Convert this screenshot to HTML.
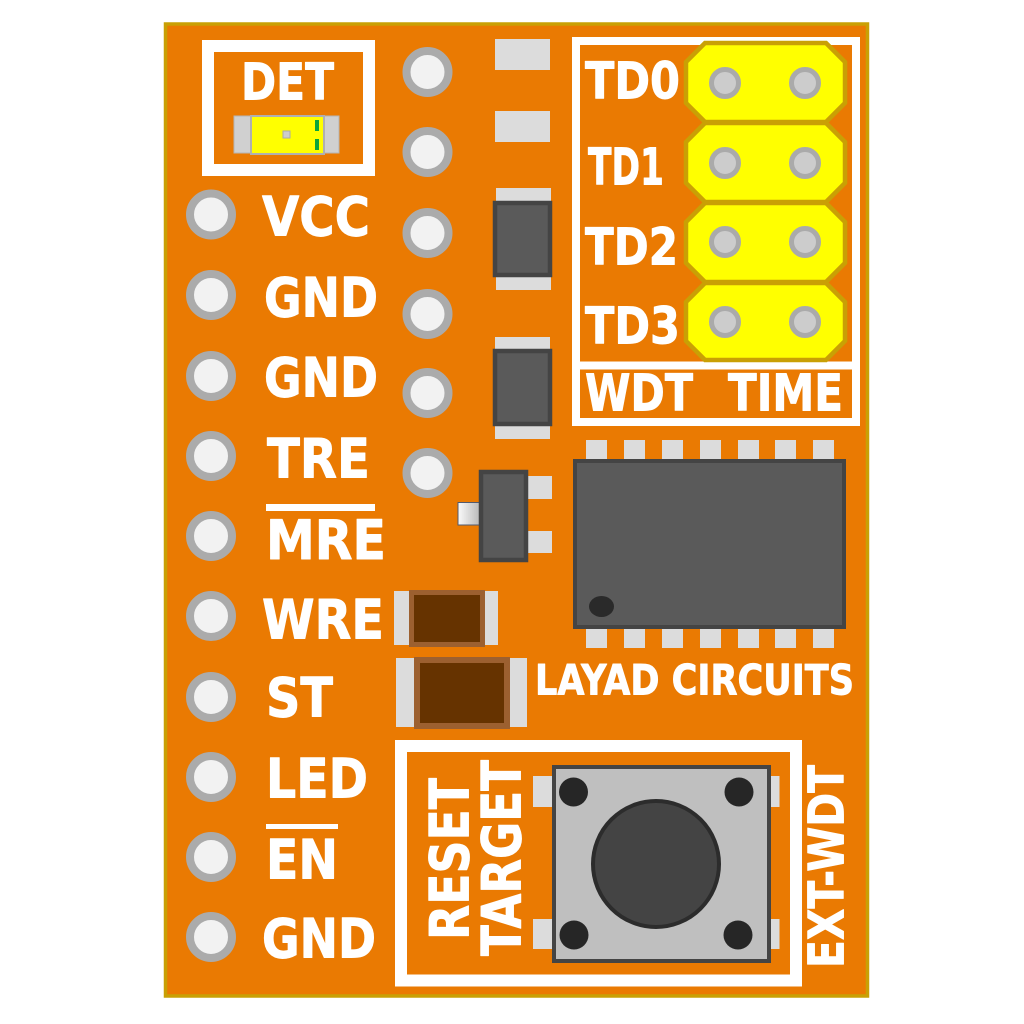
<!DOCTYPE html>
<html><head><meta charset="utf-8">
<style>html,body{margin:0;padding:0;background:#fff}svg{display:block}
text{font-family:"DejaVu Sans","Liberation Sans",sans-serif;font-weight:bold;fill:#fff;stroke:#fff;stroke-width:.9;stroke-linejoin:round}</style>
</head><body>
<svg width="1024" height="1024" viewBox="0 0 1024 1024" xmlns="http://www.w3.org/2000/svg">
<defs><linearGradient id="g" x1="0" x2="1" y1="0" y2="0"><stop offset="0" stop-color="#fafafa"/><stop offset="1" stop-color="#b8b8b8"/></linearGradient></defs>
<rect width="1024" height="1024" fill="#fff"/>
<rect x="165.500" y="24" width="702" height="972" fill="#ea7a02" stroke="#c9a005" stroke-width="3.500"/>

<!-- DET box -->
<rect x="208" y="46" width="161" height="124" fill="none" stroke="#fff" stroke-width="12"/>
<text x="241" y="99.500" font-size="51" textLength="93" lengthAdjust="spacingAndGlyphs">DET</text>
<rect x="234" y="116" width="17" height="37" fill="#d0d0d0" stroke="#b5b5b5"/>
<rect x="323" y="116" width="16" height="37" fill="#d0d0d0" stroke="#b5b5b5"/>
<rect x="251" y="116" width="73" height="38" fill="#ffff00" stroke="#b0b0b0" stroke-width="2"/>
<rect x="283" y="131" width="7" height="7" fill="#ccc" stroke="#aaa"/>
<rect x="315" y="120" width="4" height="11" fill="#0aa53a"/>
<rect x="315" y="139" width="4" height="11" fill="#0aa53a"/>

<!-- Pins -->
<g fill="#f2f2f2" stroke="#ababab" stroke-width="8">
<circle cx="211" cy="214.500" r="21"/><circle cx="211" cy="295" r="21"/><circle cx="211" cy="376" r="21"/><circle cx="211" cy="456" r="21"/><circle cx="211" cy="536" r="21"/><circle cx="211" cy="616" r="21"/><circle cx="211" cy="697" r="21"/><circle cx="211" cy="777" r="21"/><circle cx="211" cy="857" r="21"/><circle cx="211" cy="937" r="21"/>
<circle cx="427.500" cy="72" r="21"/><circle cx="427.500" cy="152" r="21"/><circle cx="427.500" cy="233" r="21"/><circle cx="427.500" cy="314" r="21"/><circle cx="427.500" cy="393" r="21"/><circle cx="427.500" cy="473" r="21"/>
</g>

<!-- Left labels -->
<g font-size="54.500">
<text x="262" y="235.500" textLength="108" lengthAdjust="spacingAndGlyphs">VCC</text>
<text x="264" y="316.500" textLength="114" lengthAdjust="spacingAndGlyphs">GND</text>
<text x="264" y="396.500" textLength="114" lengthAdjust="spacingAndGlyphs">GND</text>
<text x="267" y="477.500" textLength="103" lengthAdjust="spacingAndGlyphs">TRE</text>
<text x="266" y="559" textLength="120" lengthAdjust="spacingAndGlyphs">MRE</text>
<text x="262" y="638.500" textLength="122" lengthAdjust="spacingAndGlyphs">WRE</text>
<text x="266" y="716.500" textLength="67" lengthAdjust="spacingAndGlyphs">ST</text>
<text x="266" y="797.500" textLength="102" lengthAdjust="spacingAndGlyphs">LED</text>
<text x="266" y="878.500" textLength="72" lengthAdjust="spacingAndGlyphs">EN</text>
<text x="262" y="957.500" textLength="114" lengthAdjust="spacingAndGlyphs">GND</text>
</g>
<rect x="266" y="504" width="109" height="7" fill="#fff"/>
<rect x="266" y="824" width="72" height="5" fill="#fff"/>

<!-- Top pads -->
<rect x="495" y="39" width="55" height="31" fill="#dcdcdc"/>
<rect x="495" y="111" width="55" height="31" fill="#dcdcdc"/>

<!-- SMD 1 / 2 -->
<rect x="496" y="188" width="55" height="102" fill="#dcdcdc"/>
<rect x="495" y="203" width="55" height="72" fill="#5a5a5a" stroke="#444" stroke-width="4.500"/>
<rect x="495" y="337" width="55" height="102" fill="#dcdcdc"/>
<rect x="495" y="351" width="55" height="73" fill="#5a5a5a" stroke="#444" stroke-width="4.500"/>

<!-- SOT -->
<rect x="528" y="476" width="24" height="23" fill="#dcdcdc"/>
<rect x="528" y="531" width="24" height="22" fill="#dcdcdc"/>
<rect x="458" y="502.500" width="22" height="22.500" fill="url(#g)" stroke="#505a70" stroke-width="1"/>
<rect x="481" y="472" width="45" height="88" fill="#5a5a5a" stroke="#444" stroke-width="4.500"/>

<!-- Caps -->
<rect x="394" y="591" width="104" height="54" fill="#dcdcdc"/>
<rect x="411.500" y="592.500" width="71" height="52" fill="#663300" stroke="#9c6030" stroke-width="5"/>
<rect x="396" y="658" width="131" height="69" fill="#dcdcdc"/>
<rect x="417" y="660" width="90" height="66" fill="#663300" stroke="#9c6030" stroke-width="6"/>

<!-- IC -->
<g fill="#dcdcdc">
<rect x="586" y="440" width="21" height="20"/><rect x="624" y="440" width="21" height="20"/><rect x="662" y="440" width="21" height="20"/><rect x="700" y="440" width="21" height="20"/><rect x="738" y="440" width="21" height="20"/><rect x="775" y="440" width="21" height="20"/><rect x="813" y="440" width="21" height="20"/>
<rect x="586" y="628" width="21" height="20"/><rect x="624" y="628" width="21" height="20"/><rect x="662" y="628" width="21" height="20"/><rect x="700" y="628" width="21" height="20"/><rect x="738" y="628" width="21" height="20"/><rect x="775" y="628" width="21" height="20"/><rect x="813" y="628" width="21" height="20"/>
</g>
<rect x="575" y="461" width="269" height="166" fill="#5a5a5a" stroke="#444" stroke-width="4"/>
<ellipse cx="601.500" cy="606.500" rx="12.500" ry="10.500" fill="#2a2a2a"/>

<!-- Jumper box -->
<rect x="576" y="41" width="280" height="381" fill="none" stroke="#fff" stroke-width="8"/>
<rect x="576" y="361.500" width="280" height="8" fill="#fff"/>
<g fill="#ffff00" stroke="#c9a005" stroke-width="4.500">
<polygon points="705,43 826,43 845,62 845,103 826,122 705,122 686,103 686,62"/>
<polygon points="705,123 826,123 845,142 845,183 826,202 705,202 686,183 686,142"/>
<polygon points="705,203 826,203 845,222 845,263 826,282 705,282 686,263 686,222"/>
<polygon points="705,283 826,283 845,302 845,341 826,360 705,360 686,341 686,302"/>
</g>
<g fill="#ccc" stroke="#aaa" stroke-width="5">
<circle cx="725" cy="83" r="13.500"/><circle cx="805" cy="83" r="13.500"/>
<circle cx="725" cy="163" r="13.500"/><circle cx="805" cy="163" r="13.500"/>
<circle cx="725" cy="242" r="13.500"/><circle cx="805" cy="242" r="13.500"/>
<circle cx="725" cy="322" r="13.500"/><circle cx="805" cy="322" r="13.500"/>
</g>
<g font-size="51">
<text x="585" y="98.500" textLength="95" lengthAdjust="spacingAndGlyphs">TD0</text>
<text x="588" y="184.500" textLength="76" lengthAdjust="spacingAndGlyphs">TD1</text>
<text x="585" y="264.500" textLength="93" lengthAdjust="spacingAndGlyphs">TD2</text>
<text x="585" y="343.500" textLength="95" lengthAdjust="spacingAndGlyphs">TD3</text>
<text x="585" y="410.500" textLength="108" lengthAdjust="spacingAndGlyphs">WDT</text>
<text x="728" y="410.500" textLength="115" lengthAdjust="spacingAndGlyphs">TIME</text>
</g>
<text x="535" y="694.500" font-size="42" textLength="319" lengthAdjust="spacingAndGlyphs">LAYAD CIRCUITS</text>

<!-- Reset box -->
<rect x="401" y="746" width="395" height="234.500" fill="none" stroke="#fff" stroke-width="12"/>
<rect x="533" y="776" width="20" height="31" fill="#dcdcdc"/>
<rect x="533" y="919" width="20" height="30" fill="#dcdcdc"/>
<rect x="770" y="776" width="9.500" height="31" fill="#dcdcdc"/>
<rect x="770" y="919" width="9.500" height="30" fill="#dcdcdc"/>
<rect x="554" y="767" width="215" height="194" fill="#bfbfbf" stroke="#444" stroke-width="4"/>
<circle cx="656" cy="864" r="63" fill="#444" stroke="#2c2c2c" stroke-width="4"/>
<g fill="#262626">
<circle cx="573.500" cy="792" r="14.500"/><circle cx="739" cy="792" r="14.500"/>
<circle cx="574" cy="935" r="14.500"/><circle cx="738" cy="935" r="14.500"/>
</g>
<text transform="translate(468.500,940) rotate(-90)" font-size="54.500" textLength="162" lengthAdjust="spacingAndGlyphs">RESET</text>
<text transform="translate(520.500,956) rotate(-90)" font-size="54.500" textLength="196" lengthAdjust="spacingAndGlyphs">TARGET</text>
<text transform="translate(843.500,968) rotate(-90)" font-size="49" textLength="203" lengthAdjust="spacingAndGlyphs">EXT-WDT</text>
</svg>
</body></html>
